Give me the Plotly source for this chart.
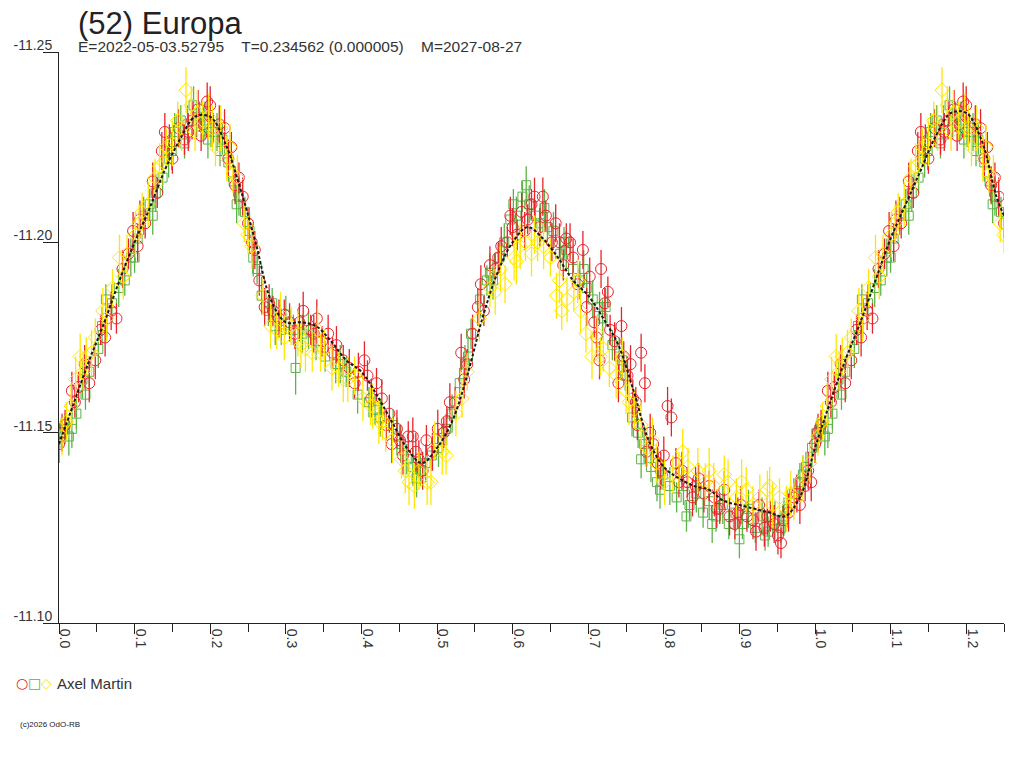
import plotly.graph_objects as go

# fitted light curve
fit_phase = [0.00, 0.02, 0.04, 0.06, 0.08, 0.10, 0.12, 0.14, 0.16, 0.18, 0.20, 0.22, 0.24,
             0.26, 0.28, 0.30, 0.32, 0.34, 0.36, 0.38, 0.40, 0.42, 0.44, 0.46, 0.48, 0.50,
             0.52, 0.54, 0.56, 0.58, 0.60, 0.62, 0.64, 0.66, 0.68, 0.70, 0.72, 0.74, 0.76,
             0.78, 0.80, 0.82, 0.84, 0.86, 0.88, 0.90, 0.92, 0.94, 0.96, 0.98, 1.00, 1.02,
             1.04, 1.06, 1.08, 1.10, 1.12, 1.14, 1.16, 1.18, 1.20, 1.22, 1.24, 1.25]
fit_mag = [-11.147, -11.158, -11.169, -11.179, -11.190, -11.200, -11.209, -11.219, -11.227,
           -11.233, -11.233, -11.226, -11.214, -11.200, -11.185, -11.179, -11.179, -11.178,
           -11.174, -11.169, -11.166, -11.160, -11.153, -11.146, -11.142, -11.146, -11.153,
           -11.165, -11.180, -11.192, -11.200, -11.204, -11.201, -11.196, -11.190, -11.186,
           -11.180, -11.173, -11.161, -11.148, -11.141, -11.138, -11.136, -11.135, -11.132,
           -11.131, -11.130, -11.129, -11.128, -11.133, -11.146, -11.158, -11.169, -11.179,
           -11.190, -11.201, -11.210, -11.219, -11.228, -11.234, -11.234, -11.227, -11.212,
           -11.207]

# observer: Axel Martin, three sessions (red / green / yellow)
red_phase = [0.000, 0.008, 0.017, 0.026, 0.034, 0.048, 0.055, 0.061, 0.063, 0.076, 0.084, 0.092,
             0.098, 0.107, 0.114, 0.124, 0.130, 0.136, 0.140, 0.150, 0.158, 0.166, 0.176, 0.184,
             0.190, 0.196, 0.204, 0.212, 0.219, 0.228, 0.233, 0.243, 0.250, 0.259, 0.265, 0.272,
             0.283, 0.291, 0.305, 0.312, 0.323, 0.333, 0.341, 0.348, 0.356, 0.367, 0.376, 0.384,
             0.391, 0.404, 0.408, 0.413, 0.420, 0.427, 0.433, 0.440, 0.447, 0.455, 0.462, 0.468,
             0.476, 0.486, 0.494, 0.501, 0.509, 0.517, 0.524, 0.532, 0.540, 0.547, 0.554, 0.562,
             0.570, 0.577, 0.585, 0.593, 0.600, 0.606, 0.612, 0.620, 0.629, 0.636, 0.644, 0.652,
             0.662, 0.671, 0.680, 0.686, 0.693, 0.702, 0.708, 0.711, 0.717, 0.722, 0.715, 0.729,
             0.735, 0.740, 0.747, 0.752, 0.759, 0.765, 0.770, 0.775, 0.777, 0.786, 0.792, 0.800,
             0.805, 0.810, 0.816, 0.824, 0.831, 0.838, 0.846, 0.853, 0.860, 0.867, 0.874, 0.880,
             0.887, 0.894, 0.902, 0.910, 0.918, 0.926, 0.933, 0.941, 0.946, 0.951, 0.958, 0.965,
             0.972, 0.980, 0.987, 0.995]
red_mag = [-11.147, -11.152, -11.161, -11.162, -11.168, -11.169, -11.177, -11.175, -11.180,
           -11.180, -11.193, -11.197, -11.203, -11.206, -11.205, -11.216, -11.213, -11.224,
           -11.229, -11.222, -11.230, -11.227, -11.232, -11.235, -11.231, -11.237, -11.230,
           -11.231, -11.230, -11.225, -11.215, -11.212, -11.205, -11.198, -11.190, -11.183,
           -11.182, -11.180, -11.179, -11.176, -11.182, -11.177, -11.180, -11.174, -11.176,
           -11.173, -11.169, -11.167, -11.163, -11.169, -11.165, -11.159, -11.163, -11.159,
           -11.152, -11.147, -11.151, -11.144, -11.149, -11.149, -11.143, -11.148, -11.145,
           -11.151, -11.150, -11.158, -11.158, -11.171, -11.168, -11.176, -11.183, -11.182,
           -11.194, -11.193, -11.199, -11.200, -11.204, -11.202, -11.208, -11.206, -11.212,
           -11.204, -11.207, -11.200, -11.200, -11.201, -11.196, -11.189, -11.198, -11.191,
           -11.179, -11.175, -11.193, -11.184, -11.169, -11.177, -11.174, -11.163, -11.170,
           -11.165, -11.159, -11.152, -11.171, -11.163, -11.145, -11.147, -11.142, -11.144,
           -11.157, -11.154, -11.142, -11.140, -11.137, -11.133, -11.138, -11.134, -11.136,
           -11.133, -11.130, -11.135, -11.128, -11.126, -11.131, -11.128, -11.127, -11.131,
           -11.125, -11.128, -11.126, -11.123, -11.127, -11.129, -11.133, -11.131, -11.136,
           -11.137]
red_err = [0.005, 0.004, 0.005, 0.004, 0.005, 0.005, 0.004, 0.005, 0.005, 0.004, 0.005, 0.004,
           0.005, 0.005, 0.004, 0.005, 0.004, 0.005, 0.005, 0.004, 0.005, 0.004, 0.005, 0.005,
           0.004, 0.005, 0.004, 0.005, 0.005, 0.004, 0.005, 0.005, 0.004, 0.005, 0.004, 0.005,
           0.004, 0.005, 0.005, 0.004, 0.005, 0.004, 0.005, 0.004, 0.005, 0.005, 0.004, 0.005,
           0.004, 0.005, 0.004, 0.005, 0.004, 0.005, 0.004, 0.005, 0.005, 0.005, 0.004, 0.005,
           0.005, 0.004, 0.005, 0.005, 0.004, 0.005, 0.004, 0.005, 0.004, 0.005, 0.005, 0.004,
           0.005, 0.004, 0.005, 0.004, 0.005, 0.004, 0.005, 0.004, 0.005, 0.005, 0.004, 0.005,
           0.005, 0.004, 0.005, 0.004, 0.005, 0.005, 0.004, 0.005, 0.005, 0.004, 0.005, 0.004,
           0.005, 0.005, 0.004, 0.005, 0.005, 0.004, 0.005, 0.005, 0.004, 0.005, 0.004, 0.005,
           0.005, 0.005, 0.004, 0.005, 0.004, 0.005, 0.004, 0.005, 0.004, 0.005, 0.004, 0.005,
           0.005, 0.004, 0.005, 0.004, 0.005, 0.004, 0.005, 0.004, 0.005, 0.005, 0.004, 0.005,
           0.004, 0.005, 0.004, 0.005]
# second red night
red_phase_b = [0.004, 0.021, 0.040, 0.069, 0.104, 0.146, 0.171, 0.188, 0.200, 0.224, 0.238,
               0.255, 0.278, 0.298, 0.318, 0.337, 0.362, 0.396, 0.437, 0.451, 0.472, 0.481,
               0.513, 0.536, 0.558, 0.581, 0.597, 0.616, 0.625, 0.640, 0.657, 0.667, 0.676,
               0.698, 0.726, 0.744, 0.756, 0.763, 0.782, 0.796, 0.820, 0.842, 0.870, 0.898,
               0.922, 0.937, 0.955, 0.976, 0.991]
red_mag_b = [-11.150, -11.158, -11.163, -11.182, -11.199, -11.226, -11.229, -11.228, -11.236,
             -11.222, -11.217, -11.200, -11.184, -11.181, -11.179, -11.176, -11.171, -11.166,
             -11.155, -11.148, -11.145, -11.140, -11.153, -11.164, -11.189, -11.196, -11.207,
             -11.203, -11.210, -11.212, -11.205, -11.194, -11.200, -11.183, -11.187, -11.178,
             -11.168, -11.158, -11.150, -11.140, -11.137, -11.136, -11.130, -11.129, -11.124,
             -11.128, -11.121, -11.134, -11.140]
red_err_b = [0.005, 0.004, 0.005, 0.005, 0.004, 0.005, 0.005, 0.004, 0.005, 0.005, 0.004,
             0.005, 0.005, 0.004, 0.005, 0.005, 0.004, 0.005, 0.005, 0.004, 0.005, 0.005,
             0.004, 0.005, 0.005, 0.004, 0.005, 0.005, 0.004, 0.005, 0.005, 0.004, 0.005,
             0.005, 0.004, 0.005, 0.005, 0.004, 0.005, 0.005, 0.004, 0.005, 0.005, 0.004,
             0.005, 0.005, 0.004, 0.005, 0.005]

green_phase = [0.003, 0.008, 0.017, 0.023, 0.031, 0.040, 0.052, 0.062, 0.070, 0.087, 0.095, 0.104,
               0.112, 0.120, 0.128, 0.137, 0.145, 0.153, 0.161, 0.170, 0.178, 0.186, 0.193, 0.201,
               0.209, 0.216, 0.224, 0.231, 0.238, 0.246, 0.252, 0.262, 0.268, 0.277, 0.286, 0.294,
               0.313, 0.300, 0.310, 0.322, 0.340, 0.352, 0.366, 0.380, 0.395, 0.410, 0.425, 0.442,
               0.452, 0.460, 0.468, 0.478, 0.485, 0.493, 0.502, 0.512, 0.520, 0.530, 0.537, 0.545,
               0.557, 0.566, 0.574, 0.582, 0.589, 0.597, 0.605, 0.613, 0.622, 0.630, 0.637, 0.646,
               0.654, 0.663, 0.671, 0.680, 0.689, 0.698, 0.706, 0.715, 0.723, 0.732, 0.741, 0.749,
               0.758, 0.766, 0.774, 0.783, 0.791, 0.799, 0.808, 0.817, 0.826, 0.834, 0.843, 0.852,
               0.860, 0.869, 0.878, 0.886, 0.895, 0.904, 0.912, 0.921, 0.930, 0.938, 0.947, 0.955,
               0.963, 0.972, 0.980, 0.988, 0.996]
green_mag = [-11.150, -11.151, -11.151, -11.155, -11.164, -11.166, -11.172, -11.185, -11.184,
             -11.190, -11.196, -11.201, -11.207, -11.210, -11.213, -11.217, -11.222, -11.229,
             -11.232, -11.231, -11.236, -11.233, -11.232, -11.229, -11.229, -11.227, -11.221,
             -11.216, -11.212, -11.208, -11.203, -11.193, -11.186, -11.182, -11.178, -11.177,
             -11.167, -11.181, -11.177, -11.176, -11.174, -11.170, -11.168, -11.166, -11.160,
             -11.158, -11.154, -11.152, -11.147, -11.143, -11.141, -11.140, -11.142, -11.144,
             -11.146, -11.151, -11.155, -11.163, -11.168, -11.176, -11.185, -11.190, -11.190,
             -11.196, -11.200, -11.206, -11.207, -11.212, -11.210, -11.207, -11.205, -11.204,
             -11.203, -11.197, -11.198, -11.193, -11.190, -11.188, -11.185, -11.183, -11.183,
             -11.173, -11.170, -11.165, -11.154, -11.150, -11.147, -11.141, -11.137, -11.139,
             -11.136, -11.133, -11.136, -11.131, -11.134, -11.129, -11.132, -11.128, -11.131,
             -11.126, -11.129, -11.126, -11.130, -11.125, -11.128, -11.124, -11.127, -11.125,
             -11.130, -11.134, -11.137, -11.141, -11.146]
green_err = [0.004, 0.004, 0.005, 0.004, 0.005, 0.004, 0.005, 0.004, 0.005, 0.004, 0.005, 0.004,
             0.005, 0.004, 0.005, 0.004, 0.005, 0.005, 0.004, 0.005, 0.005, 0.004, 0.005, 0.004,
             0.005, 0.004, 0.005, 0.004, 0.005, 0.004, 0.005, 0.004, 0.005, 0.004, 0.005, 0.004,
             0.007, 0.005, 0.004, 0.005, 0.005, 0.004, 0.005, 0.004, 0.005, 0.004, 0.005, 0.004,
             0.005, 0.004, 0.005, 0.004, 0.005, 0.004, 0.005, 0.004, 0.005, 0.004, 0.005, 0.004,
             0.005, 0.004, 0.005, 0.004, 0.005, 0.004, 0.005, 0.004, 0.005, 0.004, 0.005, 0.004,
             0.005, 0.004, 0.005, 0.004, 0.005, 0.004, 0.005, 0.004, 0.005, 0.004, 0.005, 0.004,
             0.005, 0.004, 0.005, 0.004, 0.005, 0.004, 0.005, 0.004, 0.005, 0.004, 0.005, 0.004,
             0.005, 0.004, 0.005, 0.004, 0.005, 0.004, 0.005, 0.004, 0.005, 0.004, 0.005, 0.004,
             0.005, 0.004, 0.005, 0.004, 0.005]
# second green night
green_phase_b = [0.013, 0.035, 0.057, 0.079, 0.100, 0.124, 0.149, 0.166, 0.182, 0.197, 0.213,
                 0.235, 0.257, 0.282, 0.330, 0.372, 0.418, 0.447, 0.473, 0.507, 0.541, 0.570,
                 0.601, 0.618, 0.642, 0.668, 0.694, 0.719, 0.745, 0.770, 0.795, 0.830, 0.864,
                 0.900, 0.934, 0.959, 0.984]
green_mag_b = [-11.149, -11.160, -11.178, -11.188, -11.196, -11.207, -11.224, -11.226, -11.232,
               -11.227, -11.224, -11.210, -11.196, -11.184, -11.177, -11.168, -11.156, -11.149,
               -11.138, -11.148, -11.170, -11.192, -11.210, -11.215, -11.209, -11.200, -11.193,
               -11.180, -11.169, -11.143, -11.135, -11.128, -11.126, -11.122, -11.123, -11.128,
               -11.139]
green_err_b = [0.005, 0.004, 0.005, 0.005, 0.004, 0.005, 0.005, 0.004, 0.005, 0.005, 0.004,
               0.005, 0.005, 0.004, 0.005, 0.005, 0.004, 0.005, 0.005, 0.004, 0.005, 0.005,
               0.004, 0.005, 0.005, 0.004, 0.005, 0.005, 0.004, 0.005, 0.005, 0.004, 0.005,
               0.005, 0.004, 0.005, 0.005]

yellow_phase = [0.004, 0.010, 0.022, 0.028, 0.036, 0.043, 0.048, 0.058, 0.071, 0.080, 0.090, 0.101,
                0.110, 0.118, 0.127, 0.133, 0.142, 0.150, 0.157, 0.168, 0.175, 0.183, 0.190, 0.198,
                0.207, 0.214, 0.222, 0.230, 0.236, 0.245, 0.255, 0.270, 0.280, 0.288, 0.298, 0.307,
                0.316, 0.326, 0.335, 0.342, 0.351, 0.361, 0.370, 0.382, 0.391, 0.402, 0.412, 0.423,
                0.432, 0.441, 0.453, 0.463, 0.470, 0.476, 0.487, 0.497, 0.507, 0.512, 0.525, 0.540,
                0.556, 0.570, 0.584, 0.590, 0.602, 0.610, 0.617, 0.625, 0.633, 0.641, 0.650, 0.658,
                0.665, 0.672, 0.681, 0.690, 0.697, 0.705, 0.712, 0.720, 0.728, 0.737, 0.745, 0.754,
                0.761, 0.770, 0.778, 0.790, 0.801, 0.812, 0.825, 0.832, 0.845, 0.855, 0.866, 0.880,
                0.885, 0.896, 0.909, 0.918, 0.927, 0.937, 0.944, 0.953, 0.962, 0.972, 0.984, 0.993]
yellow_mag = [-11.149, -11.153, -11.164, -11.170, -11.170, -11.171, -11.175, -11.182, -11.188,
              -11.196, -11.197, -11.202, -11.208, -11.210, -11.217, -11.220, -11.225, -11.226,
              -11.232, -11.240, -11.236, -11.234, -11.232, -11.233, -11.225, -11.230, -11.222,
              -11.218, -11.217, -11.205, -11.199, -11.186, -11.178, -11.177, -11.175, -11.178,
              -11.176, -11.172, -11.171, -11.177, -11.172, -11.167, -11.167, -11.164, -11.165,
              -11.159, -11.157, -11.153, -11.150, -11.148, -11.143, -11.137, -11.136, -11.140,
              -11.137, -11.148, -11.145, -11.144, -11.155, -11.166, -11.180, -11.188, -11.193,
              -11.189, -11.196, -11.199, -11.200, -11.197, -11.200, -11.199, -11.196, -11.186,
              -11.182, -11.185, -11.187, -11.182, -11.176, -11.170, -11.176, -11.172, -11.167,
              -11.165, -11.170, -11.158, -11.156, -11.152, -11.146, -11.142, -11.137, -11.139,
              -11.145, -11.141, -11.140, -11.137, -11.136, -11.139, -11.137, -11.133, -11.135,
              -11.131, -11.133, -11.135, -11.131, -11.133, -11.130, -11.132, -11.138, -11.142]
yellow_err = [0.005, 0.005, 0.006, 0.006, 0.005, 0.006, 0.005, 0.006, 0.005, 0.006, 0.005, 0.006,
              0.005, 0.006, 0.005, 0.006, 0.005, 0.006, 0.005, 0.006, 0.005, 0.006, 0.005, 0.006,
              0.005, 0.006, 0.006, 0.005, 0.006, 0.005, 0.006, 0.005, 0.006, 0.005, 0.006, 0.005,
              0.006, 0.006, 0.005, 0.006, 0.005, 0.006, 0.005, 0.006, 0.005, 0.006, 0.005, 0.006,
              0.005, 0.006, 0.005, 0.006, 0.006, 0.005, 0.006, 0.005, 0.006, 0.005, 0.006, 0.005,
              0.006, 0.005, 0.006, 0.005, 0.006, 0.006, 0.005, 0.006, 0.005, 0.006, 0.005, 0.006,
              0.005, 0.006, 0.005, 0.006, 0.005, 0.006, 0.005, 0.006, 0.005, 0.006, 0.005, 0.006,
              0.005, 0.006, 0.005, 0.005, 0.006, 0.005, 0.006, 0.005, 0.006, 0.005, 0.006, 0.005,
              0.006, 0.005, 0.006, 0.005, 0.006, 0.005, 0.006, 0.005, 0.006, 0.005, 0.006, 0.005]
# second yellow night
yellow_phase_b = [0.016, 0.032, 0.063, 0.085, 0.106, 0.138, 0.162, 0.180, 0.203, 0.226, 0.250,
                  0.293, 0.320, 0.346, 0.376, 0.415, 0.428, 0.458, 0.492, 0.533, 0.577, 0.605,
                  0.629, 0.662, 0.686, 0.716, 0.750, 0.785, 0.820, 0.860, 0.903, 0.940, 0.968]
yellow_mag_b = [-11.157, -11.166, -11.180, -11.191, -11.205, -11.221, -11.230, -11.229, -11.230,
                -11.225, -11.202, -11.181, -11.173, -11.171, -11.164, -11.157, -11.153, -11.140,
                -11.137, -11.159, -11.187, -11.195, -11.202, -11.190, -11.190, -11.170, -11.161,
                -11.148, -11.140, -11.140, -11.137, -11.136, -11.134]
yellow_err_b = [0.006, 0.005, 0.006, 0.006, 0.005, 0.006, 0.006, 0.005, 0.006, 0.006, 0.005,
                0.006, 0.006, 0.005, 0.006, 0.006, 0.005, 0.006, 0.006, 0.005, 0.006, 0.006,
                0.005, 0.006, 0.006, 0.005, 0.006, 0.006, 0.005, 0.006, 0.006, 0.005, 0.006]

x_tickvals = [0.0, 0.1, 0.2, 0.3, 0.4, 0.5, 0.6, 0.7, 0.8, 0.9, 1.0, 1.1, 1.2]
x_ticktext = ["0.0", "0.1", "0.2", "0.3", "0.4", "0.5", "0.6", "0.7", "0.8", "0.9", "1.0", "1.1", "1.2"]
y_tickvals = [-11.25, -11.20, -11.15, -11.10]
y_ticktext = ["-11.25", "-11.20", "-11.15", "-11.10"]

title_text = "(52) Europa"
info_text = "E=2022-05-03.52795&nbsp;&nbsp;&nbsp;&nbsp;T=0.234562 (0.000005)&nbsp;&nbsp;&nbsp;&nbsp;M=2027-08-27"
observer = "Axel Martin"


def repeat_phase(phase, mag, err, upto=0.25):
    """
    Plot phases below `upto` a second time at phase + 1, like the original chart.
    """
    p2, m2, e2 = list(phase), list(mag), list(err)
    for p, m, e in zip(phase, mag, err):
        if p <= upto:
            p2.append(p + 1.0)
            m2.append(m)
            e2.append(e)
    return p2, m2, e2


def add_session(fig, phase, mag, err, color, symbol, size):
    p, m, e = repeat_phase(phase, mag, err)
    fig.add_trace(go.Scatter(
        x=p, y=m, mode="markers", showlegend=False,
        marker=dict(symbol=symbol, size=size, color=color, line=dict(color=color, width=1)),
        error_y=dict(type="data", array=e, color=color, thickness=1.3, width=0),
    ))


def main():
    fig = go.Figure()

    add_session(fig, green_phase + green_phase_b, green_mag + green_mag_b, green_err + green_err_b,
                "#5cb345", "square-open", 9)
    add_session(fig, red_phase + red_phase_b, red_mag + red_mag_b, red_err + red_err_b,
                "#e8232b", "circle-open", 11)
    add_session(fig, yellow_phase + yellow_phase_b, yellow_mag + yellow_mag_b, yellow_err + yellow_err_b,
                "#ffe600", "diamond-open", 11)

    fig.add_trace(go.Scatter(
        x=fit_phase, y=fit_mag, mode="lines", showlegend=False,
        line=dict(color="#1a1a1a", width=2, dash="3px,2px", shape="spline"),
    ))

    fig.update_layout(
        width=1024, height=768,
        margin=dict(l=59, r=20, t=52, b=145),
        paper_bgcolor="white", plot_bgcolor="white",
        font=dict(family="Liberation Sans, Arial", color="#333333", size=14),
    )
    fig.update_xaxes(
        range=[0, 1.25], tickvals=x_tickvals, ticktext=x_ticktext, tickangle=90,
        ticks="outside", ticklen=10, tickcolor="#222", showgrid=False, zeroline=False,
        showline=True, linecolor="#222", linewidth=1, ticklabelshift=6, ticklabelstandoff=-8,
        minor=dict(dtick=0.05, tick0=0, ticks="outside", ticklen=8, tickcolor="#222"),
    )
    fig.update_yaxes(
        range=[-11.10, -11.25], tickvals=y_tickvals, ticktext=y_ticktext,
        ticks="outside", ticklen=15, tickcolor="#222", showgrid=False, zeroline=False,
        showline=True, linecolor="#222", linewidth=1,
        ticklabelstandoff=-12, ticklabelshift=7,
    )

    fig.add_annotation(text=title_text, xref="paper", yref="paper", x=0.0175, y=1.0,
                       xanchor="left", yanchor="bottom", yshift=9, showarrow=False,
                       font=dict(size=31, color="#222222"))
    fig.add_annotation(text=info_text, xref="paper", yref="paper", x=0.0175, y=1.0,
                       xanchor="left", yanchor="bottom", yshift=-5, showarrow=False,
                       font=dict(size=15.5, color="#333333"))

    # legend: three session symbols followed by the observer name
    legend_marks = [("○", "#e8232b"), ("□", "#5cb345"), ("◇", "#ffe600")]
    for i, (mark, color) in enumerate(legend_marks):
        fig.add_annotation(text=mark, xref="paper", yref="paper",
                           x=(22 + 12 * i - 59) / 945, y=(623 - 683) / 571,
                           xanchor="center", yanchor="middle", showarrow=False,
                           font=dict(family="DejaVu Sans", size=14, color=color))
    fig.add_annotation(text=observer, xref="paper", yref="paper", x=(55 - 59) / 945,
                       y=(623 - 683) / 571, xanchor="left", yanchor="middle", showarrow=False,
                       font=dict(size=15, color="#333333"))
    fig.add_annotation(text="(c)2026 OdO-RB", xref="paper", yref="paper", x=(18 - 59) / 945,
                       y=(623 - 725) / 571, xanchor="left", yanchor="middle", showarrow=False,
                       font=dict(size=8, color="#222222"))

    # drop the default page margin so the chart sits at the window corner
    fig.write_html("out.html", config={"displayModeBar": False},
                   post_script="document.body.style.margin = '0px';")


if __name__ == "__main__":
    main()
